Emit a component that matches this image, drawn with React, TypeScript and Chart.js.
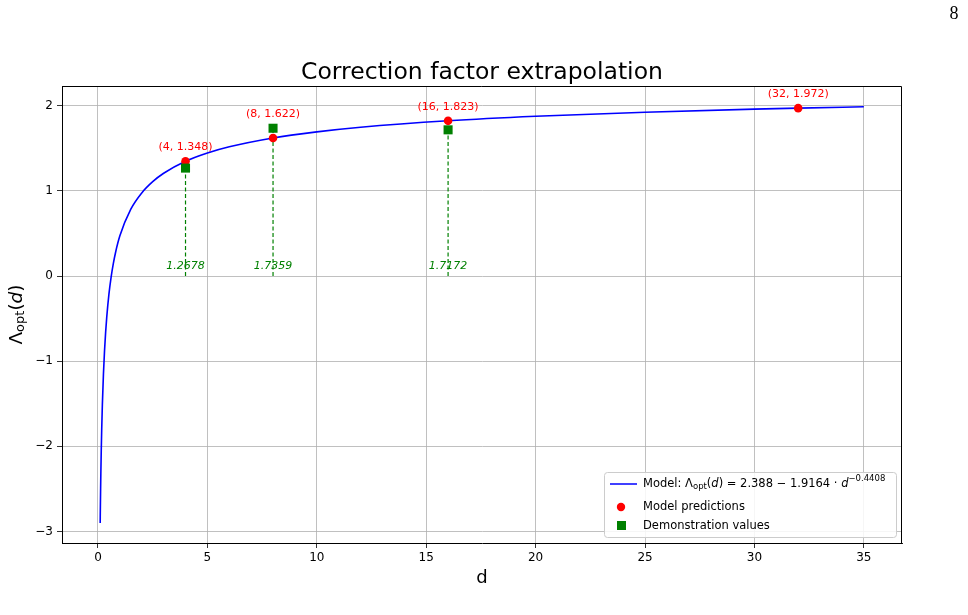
import React, { useEffect, useRef } from "react";
import { Chart, registerables } from "chart.js";

Chart.register(...registerables);

// Model curve samples: d and Λ_opt(d)
const curveD = [0.1, 0.11, 0.12, 0.13, 0.15, 0.17, 0.2, 0.25, 0.3, 0.35, 0.4, 0.5, 0.6, 0.7, 0.8, 1, 1.5, 2, 2.5, 3, 4, 5, 6, 8, 10, 12, 16, 20, 25, 30, 32, 35];
const curveL = [-2.9, -2.682, -2.491, -2.322, -2.034, -1.797, -1.508, -1.143, -0.87, -0.656, -0.482, -0.213, -0.013, 0.145, 0.274, 0.472, 0.785, 0.976, 1.108, 1.207, 1.348, 1.445, 1.518, 1.622, 1.693, 1.747, 1.823, 1.876, 1.924, 1.96, 1.972, 1.988];

// Model predictions
const modelD = [4, 8, 16, 32];
const modelL = [1.348, 1.622, 1.823, 1.972];

// Demonstration values
const demoD = [4, 8, 16];
const demoL = [1.2678, 1.7359, 1.7172];

const xTicks = [0, 5, 10, 15, 20, 25, 30, 35];
const yTicks = [-3, -2, -1, 0, 1, 2];

const TITLE = "Correction factor extrapolation";
const FONT = "'DejaVu Sans', sans-serif";

function drawRuns(ctx: CanvasRenderingContext2D, x: number, y: number, runs: { t: string; size: number; italic?: boolean; dy?: number }[]) {
  let cx = x;
  for (const r of runs) {
    ctx.font = `${r.italic ? "italic " : ""}${r.size}px ${FONT}`;
    ctx.fillText(r.t, cx, y + (r.dy || 0));
    cx += ctx.measureText(r.t).width;
  }
  return cx;
}

const overlay = {
  id: "overlay",
  beforeDraw(chart: any) {
    const ctx = chart.ctx;
    ctx.save();
    ctx.fillStyle = "#fff";
    ctx.fillRect(0, 0, chart.width, chart.height);
    ctx.restore();
  },
  afterDatasetsDraw(chart: any) {
    const ctx = chart.ctx;
    const xs = chart.scales.x;
    const ys = chart.scales.y;
    ctx.save();
    // red labels, placed above the higher of model / demonstration marker
    ctx.fillStyle = "#ff0000";
    ctx.font = `11px ${FONT}`;
    ctx.textAlign = "center";
    ctx.textBaseline = "middle";
    modelD.forEach((d, i) => {
      const j = demoD.indexOf(d);
      const top = j >= 0 ? Math.max(modelL[i], demoL[j]) : modelL[i];
      ctx.fillText(`(${d}, ${modelL[i].toFixed(3)})`, xs.getPixelForValue(d), ys.getPixelForValue(top) - 14);
    });
    // green italic values
    ctx.fillStyle = "#008000";
    ctx.font = `italic 11px ${FONT}`;
    demoD.forEach((d, i) => {
      ctx.fillText(demoL[i].toFixed(4), xs.getPixelForValue(d), ys.getPixelForValue(0.12));
    });
    ctx.restore();
  },
  afterDraw(chart: any) {
    const ctx = chart.ctx;
    const a = chart.chartArea;
    ctx.save();
    // frame top/right
    ctx.strokeStyle = "#000";
    ctx.lineWidth = 1;
    ctx.beginPath();
    ctx.moveTo(a.left, a.top + 0.5);
    ctx.lineTo(a.right - 0.5, a.top + 0.5);
    ctx.lineTo(a.right - 0.5, a.bottom);
    ctx.stroke();

    // title
    ctx.fillStyle = "#000";
    ctx.textAlign = "center";
    ctx.textBaseline = "alphabetic";
    ctx.font = `23.5px ${FONT}`;
    ctx.fillText(TITLE, (a.left + a.right) / 2, 79);

    // x label
    ctx.textBaseline = "middle";
    ctx.font = `18px ${FONT}`;
    ctx.fillText("d", (a.left + a.right) / 2, 578);

    // page number
    ctx.font = `18px 'Liberation Serif', serif`;
    ctx.fillText("8", 954, 14);

    // y label rotated
    ctx.save();
    ctx.translate(17, (a.top + a.bottom) / 2);
    ctx.rotate(-Math.PI / 2);
    ctx.textAlign = "left";
    ctx.textBaseline = "middle";
    const runs = [
      { t: "Λ", size: 18.5 },
      { t: "opt", size: 13, dy: 4 },
      { t: "(", size: 18.5 },
      { t: "d", size: 18.5, italic: true },
      { t: ")", size: 18.5 },
    ];
    let w = 0;
    for (const r of runs) {
      ctx.font = `${r.italic ? "italic " : ""}${r.size}px ${FONT}`;
      w += ctx.measureText(r.t).width;
    }
    drawRuns(ctx, -w / 2, 0, runs);
    ctx.restore();

    // legend
    const lx = 604, ly = 472, lw = 292, lh = 65;
    ctx.fillStyle = "rgba(255,255,255,0.85)";
    ctx.strokeStyle = "#cccccc";
    ctx.lineWidth = 1;
    ctx.beginPath();
    (ctx as any).roundRect(lx + 0.5, ly + 0.5, lw, lh, 3);
    ctx.fill();
    ctx.stroke();

    ctx.strokeStyle = "#0000ff";
    ctx.lineWidth = 1.5;
    ctx.beginPath();
    ctx.moveTo(610, 484);
    ctx.lineTo(637, 484);
    ctx.stroke();
    ctx.fillStyle = "#ff0000";
    ctx.beginPath();
    ctx.arc(621, 507, 4.2, 0, Math.PI * 2);
    ctx.fill();
    ctx.fillStyle = "#008000";
    ctx.fillRect(617, 521, 9, 9);

    ctx.fillStyle = "#000";
    ctx.textAlign = "left";
    ctx.textBaseline = "middle";
    drawRuns(ctx, 643, 484, [
      { t: "Model: Λ", size: 11.5 },
      { t: "opt", size: 8.5, dy: 3 },
      { t: "(", size: 11.5 },
      { t: "d", size: 11.5, italic: true },
      { t: ") = 2.388 − 1.9164 · ", size: 11.5 },
      { t: "d", size: 11.5, italic: true },
      { t: "−0.4408", size: 8.5, dy: -5 },
    ]);
    ctx.font = `11.5px ${FONT}`;
    ctx.fillText("Model predictions", 643, 507);
    ctx.fillText("Demonstration values", 643, 526);
    ctx.restore();
  },
};

export default function App() {
  const ref = useRef<HTMLCanvasElement>(null);
  useEffect(() => {
    if (!ref.current) return;
    const curve = curveD.map((d, i) => ({ x: d, y: curveL[i] }));
    const stems = demoD.map((d, i) => ({
      type: "line" as const,
      data: [{ x: d, y: 0 }, { x: d, y: demoL[i] }],
      borderColor: "#008000",
      borderWidth: 1.2,
      borderDash: [4, 2.5],
      pointRadius: 0,
      order: 3,
    }));
    const chart = new Chart(ref.current, {
      type: "scatter",
      data: {
        datasets: [
          ...stems,
          {
            type: "line",
            data: curve,
            borderColor: "#0000ff",
            borderWidth: 1.6,
            pointRadius: 0,
            cubicInterpolationMode: "monotone",
            order: 2,
          } as any,
          {
            type: "scatter",
            data: modelD.map((d, i) => ({ x: d, y: modelL[i] })),
            backgroundColor: "#ff0000",
            borderColor: "#ff0000",
            pointRadius: 4.3,
            borderWidth: 0,
            order: 1,
          },
          {
            type: "scatter",
            data: demoD.map((d, i) => ({ x: d, y: demoL[i] })),
            backgroundColor: "#008000",
            borderColor: "#008000",
            pointStyle: "rect",
            pointRadius: 6.4,
            borderWidth: 0,
            order: 0,
          },
        ],
      },
      options: {
        responsive: false,
        animation: false,
        devicePixelRatio: 1,
        layout: { padding: { top: 86, right: 66, left: 0, bottom: 0 } },
        plugins: { legend: { display: false }, tooltip: { enabled: false }, title: { display: false } },
        scales: {
          x: {
            type: "linear",
            min: -1.645,
            max: 36.745,
            afterBuildTicks: (s: any) => { s.ticks = xTicks.map((v) => ({ value: v })); },
            afterFit: (s: any) => { s.height = 72; },
            ticks: {
              color: "#000",
              font: { family: FONT, size: 12 },
              padding: 3,
              maxRotation: 0,
              callback: (v: any) => String(v),
            },
            grid: { color: "#b0b0b0", tickColor: "#000", tickLength: 5, lineWidth: 0.8 },
            border: { color: "#000", width: 1 },
          },
          y: {
            type: "linear",
            min: -3.135,
            max: 2.232,
            afterBuildTicks: (s: any) => { s.ticks = yTicks.map((v) => ({ value: v })); },
            afterFit: (s: any) => { s.width = 62; },
            ticks: {
              color: "#000",
              font: { family: FONT, size: 12 },
              padding: 4,
              callback: (v: any) => String(v).replace("-", "−"),
            },
            grid: { color: "#b0b0b0", tickColor: "#000", tickLength: 5, lineWidth: 0.8 },
            border: { color: "#000", width: 1 },
          },
        },
      },
      plugins: [overlay],
    } as any);
    return () => chart.destroy();
  }, []);
  return (
    <div style={{ position: "fixed", left: 0, top: 0, width: 968, height: 615, background: "#fff" }}>
      <canvas ref={ref} width={968} height={615} style={{ width: 968, height: 615, display: "block" }} />
    </div>
  );
}
